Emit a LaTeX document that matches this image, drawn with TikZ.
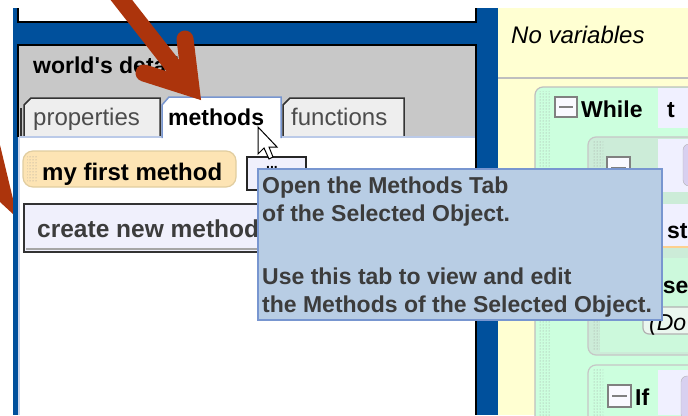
\documentclass[tikz,border=0pt]{standalone}
\usepackage{fontspec}
\setmainfont[Ligatures=TeXOff]{Liberation Sans}
\usetikzlibrary{patterns,calc,positioning}

\definecolor{winblue}{RGB}{0,80,156}
\definecolor{panelgray}{RGB}{200,200,200}
\definecolor{tabgray}{RGB}{238,238,238}
\definecolor{tipfill}{RGB}{184,205,228}
\definecolor{tipline}{RGB}{120,150,208}
\definecolor{methfill}{RGB}{253,228,180}
\definecolor{methline}{RGB}{225,205,160}
\definecolor{btnfill}{RGB}{240,240,252}
\definecolor{notepad}{RGB}{255,255,210}
\definecolor{whilegreen}{RGB}{204,255,222}
\definecolor{ifgreen}{RGB}{204,236,216}
\definecolor{lavender}{RGB}{240,240,255}
\definecolor{purplebox}{RGB}{216,208,240}
\definecolor{arrowred}{RGB}{172,52,12}
\definecolor{textgray}{RGB}{60,60,60}

\begin{document}
\begin{tikzpicture}[x=1pt,y=-1pt,
    ui/.style={inner sep=0pt, anchor=base west, font=\fontsize{23}{28}\selectfont\bfseries},
    tablabel/.style={ui, text=black!70, font=\fontsize{24}{28}\selectfont},
    tiptext/.style={ui, text=textgray},
    minusbox/.style={draw=gray, line width=1.5, fill=white!60!lavender},
    handle/.style={pattern=dots, pattern color=gray!80}]
    \useasboundingbox (0,0) rectangle (688,415);
    \fill[white] (0,0) rectangle (688,415);
    % pointer coming in from the left edge
    \fill[arrowred] (0,145) -- (13,199) -- (13,214) -- (0,202) -- cycle;
    % window frame
    \fill[winblue] (13,8) rectangle (498,415);
    \filldraw[fill=white, draw=black, line width=1.5] (18,8) -- (18,22) -- (476,22) -- (476,8);
    % details panel
    \fill[panelgray] (18,45) rectangle (476,137);
    \fill[white] (19,137) rectangle (476,415);
    \draw[tipline!40, line width=2] (19,137) -- (19,415);
    \draw[black, line width=2] (18,137) -- (18,45) -- (476,45) -- (476,415);
    \node[ui] (details) at (33,73) {world's details};
    % tabs
    \filldraw[fill=tabgray, draw=black!80, line width=1.5] (24,137) -- (24,105) -- (31,98) -- (160,98) -- (160,137);
    \draw[black!80, line width=1.5] (21,137) -- (21,108);
    \filldraw[fill=tabgray, draw=black!80, line width=1.5] (283,137) -- (283,105) -- (290,98) -- (404,98) -- (404,137);
    \filldraw[fill=white, draw=tipline, line width=1.5] (162,138) -- (162,105) -- (169,97) -- (281,97) -- (281,138);
    \draw[tipline!50, line width=1.5] (19,137) -- (161,137) (282,137) -- (475,137);
    \node[tablabel] (props) at (33,125) {properties};
    \node[ui] (meths) at (168,125) {methods};
    \node[tablabel] (funcs) at (291,125) {functions};
    % method list
    \filldraw[fill=methfill, draw=methline, line width=1.2, rounded corners=10] (23,151) rectangle (236,187);
    \fill[handle] (27,156) rectangle (38,182);
    \node[ui, font=\fontsize{24}{28}\selectfont\bfseries] (firstmeth) at (42,180) {my first method};
    \filldraw[fill=btnfill, draw=black!85, line width=1.5] (247,157) rectangle (306,190);
    \node[ui, font=\fontsize{14}{16}\selectfont\bfseries] (editbtn) at (266,168) {...};
    \filldraw[fill=btnfill, draw=black!80, line width=2.5] (24,204) rectangle (262,252);
    \draw[gray!70, line width=1.5] (26,249) -- (260,249) -- (260,206);
    \node[ui, text=textgray, font=\fontsize{24.5}{28}\selectfont\bfseries] (newmeth) at (37,237) {create new method};
    % method editor
    \fill[notepad] (498,8) rectangle (688,415);
    \draw[black!25, line width=1.2] (498,78) -- (688,78);
    \node[ui, font=\fontsize{24}{28}\selectfont\itshape] (novars) at (511,43) {No variables};
    \filldraw[fill=whilegreen, draw=gray!50, line width=1.2, rounded corners=8] (535,87) rectangle (710,440);
    \fill[handle] (539,91) rectangle (550,415);
    \draw[minusbox] (555,97) rectangle (577,117);
    \draw[gray, line width=2.5] (559,107) -- (573,107);
    \node[ui] (whilekw) at (581,117) {While};
    \fill[lavender] (658,88) rectangle (700,128);
    \node[ui] (whilecond) at (667,117) {t};
    % first If block
    \filldraw[fill=ifgreen, draw=gray!45, line width=1.2, rounded corners=8] (588,137) rectangle (710,355);
    \fill[handle] (592,141) rectangle (603,350);
    \draw[minusbox] (607,157) rectangle (630,180);
    \draw[gray, line width=2.5] (611,168) -- (626,168);
    \node[ui] (ifkw) at (634,188) {If};
    \fill[lavender] (658,139) rectangle (700,192);
    \filldraw[fill=purplebox, draw=gray!60, rounded corners=6] (683,144) rectangle (705,186);
    \fill[lavender] (662,204) rectangle (700,246);
    \draw[methfill!80!orange, line width=2] (662,247) -- (700,247);
    \node[ui] (stmt) at (667,238) {st};
    \fill[whilegreen!70!ifgreen] (600,258) rectangle (700,352);
    \node[ui] (elsekw) at (641,293) {Else};
    \filldraw[fill=white!60!ifgreen, draw=gray!60, line width=1.2, rounded corners=6] (643,307) rectangle (705,334);
    \node[ui, font=\fontsize{23}{28}\selectfont\itshape] (donothing) at (649,330) {(Do};
    % second If block
    \filldraw[fill=whilegreen, draw=gray!45, line width=1.2, rounded corners=8] (588,365) rectangle (710,440);
    \fill[handle] (592,369) rectangle (603,415);
    \draw[minusbox] (608,385) rectangle (631,407);
    \draw[gray, line width=2.5] (612,396) -- (627,396);
    \node[ui] (ifkwb) at (635,405) {If};
    \fill[lavender] (658,370) rectangle (700,415);
    \filldraw[fill=purplebox, draw=gray!60, rounded corners=6] (681,376) rectangle (705,420);
    % tooltip
    \filldraw[fill=tipfill, draw=tipline, line width=1.5] (258,169) rectangle (662,320);
    \node[tiptext] (tipA) at (262,193) {Open the Methods Tab};
    \node[tiptext] (tipB) at (262,221) {of the Selected Object.};
    \node[tiptext] (tipC) at (262,284) {Use this tab to view and edit};
    \node[tiptext] (tipD) at (262,312) {the Methods of the Selected Object.};
    % mouse pointer
    \filldraw[fill=white, draw=black, line width=1, shift={(258,127)}]
        (0,0) -- (0,27) -- (6,21) -- (11,32) -- (15,30) -- (11,20) -- (19,20) -- cycle;
    % big pointer onto the tab
    \draw[arrowred, line width=17, line cap=round] (112,-12) -- (184,80);
    \draw[arrowred, line width=17, line cap=round, line join=miter] (185,39) -- (191,88) -- (144,73);
\end{tikzpicture}
\end{document}
